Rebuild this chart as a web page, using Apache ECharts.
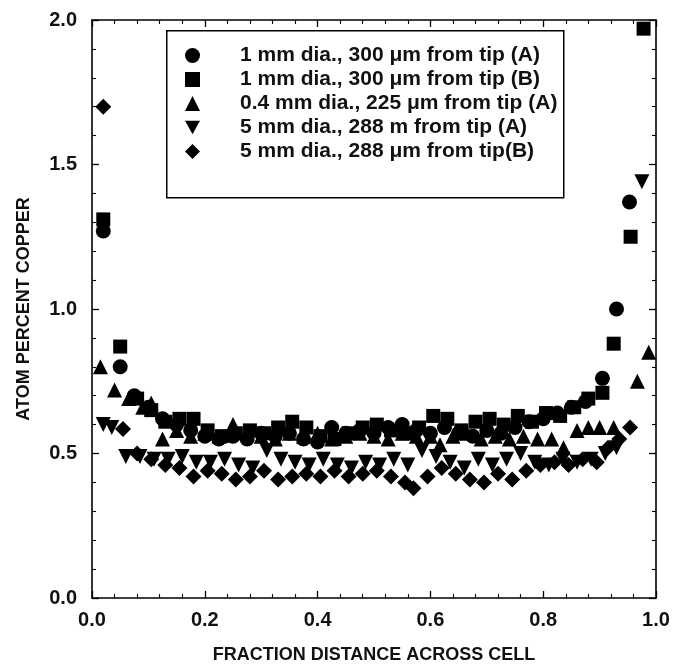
<!DOCTYPE html>
<html><head><meta charset="utf-8">
<script src="https://cdn.jsdelivr.net/npm/echarts@6/dist/echarts.min.js"></script>
<style>html,body{margin:0;padding:0;background:#fff}#c{width:681px;height:670px}</style>
</head><body><div id="c"></div>
<script>
const seriesNames = [
  '1 mm dia., 300 \u03bcm from tip (A)',
  '1 mm dia., 300 \u03bcm from tip (B)',
  '0.4 mm dia., 225 \u03bcm from tip (A)',
  '5 mm dia., 288 m from tip (A)',
  '5 mm dia., 288 \u03bcm from tip(B)'
];
const xTicks = [0, 0.2, 0.4, 0.6, 0.8, 1.0];
const yTicks = [0, 0.5, 1.0, 1.5, 2.0];

const circleA = [[0.02,1.27],[0.05,0.80],[0.075,0.70],[0.10,0.66],[0.125,0.62],[0.15,0.60],[0.175,0.58],[0.20,0.56],[0.225,0.55],[0.25,0.56],[0.275,0.55],[0.30,0.57],[0.325,0.56],[0.35,0.57],[0.375,0.55],[0.40,0.54],[0.425,0.59],[0.45,0.57],[0.475,0.58],[0.50,0.57],[0.525,0.59],[0.55,0.60],[0.575,0.58],[0.60,0.57],[0.625,0.59],[0.65,0.57],[0.675,0.56],[0.70,0.58],[0.725,0.57],[0.75,0.59],[0.775,0.61],[0.80,0.62],[0.825,0.64],[0.85,0.66],[0.875,0.68],[0.905,0.76],[0.93,1.00],[0.953,1.37]];
const squareB = [[0.02,1.31],[0.05,0.87],[0.08,0.69],[0.105,0.65],[0.13,0.61],[0.155,0.62],[0.18,0.62],[0.205,0.58],[0.23,0.56],[0.255,0.57],[0.28,0.58],[0.305,0.57],[0.33,0.59],[0.355,0.61],[0.38,0.59],[0.405,0.56],[0.43,0.55],[0.455,0.57],[0.48,0.59],[0.505,0.60],[0.53,0.58],[0.555,0.57],[0.58,0.59],[0.605,0.63],[0.63,0.62],[0.655,0.58],[0.68,0.61],[0.705,0.62],[0.73,0.60],[0.755,0.63],[0.78,0.61],[0.805,0.64],[0.83,0.63],[0.855,0.66],[0.88,0.69],[0.905,0.71],[0.925,0.88],[0.955,1.25],[0.978,1.97]];
const triangleA = [[0.015,0.80],[0.04,0.72],[0.065,0.69],[0.09,0.66],[0.105,0.675],[0.125,0.55],[0.15,0.58],[0.175,0.56],[0.20,0.57],[0.225,0.56],[0.25,0.60],[0.275,0.57],[0.30,0.56],[0.325,0.55],[0.35,0.57],[0.375,0.56],[0.40,0.57],[0.425,0.55],[0.45,0.56],[0.475,0.57],[0.50,0.56],[0.525,0.55],[0.55,0.57],[0.575,0.56],[0.60,0.56],[0.617,0.53],[0.64,0.56],[0.665,0.57],[0.69,0.55],[0.715,0.56],[0.74,0.55],[0.765,0.56],[0.79,0.55],[0.815,0.55],[0.836,0.52],[0.86,0.58],[0.88,0.59],[0.90,0.59],[0.925,0.59],[0.967,0.75],[0.987,0.85]];
const downTriA = [[0.02,0.60],[0.035,0.59],[0.06,0.49],[0.085,0.49],[0.11,0.48],[0.135,0.48],[0.16,0.49],[0.185,0.47],[0.21,0.47],[0.235,0.48],[0.26,0.46],[0.285,0.45],[0.31,0.51],[0.335,0.48],[0.36,0.47],[0.385,0.46],[0.41,0.48],[0.435,0.46],[0.46,0.45],[0.485,0.47],[0.51,0.46],[0.535,0.48],[0.56,0.46],[0.585,0.51],[0.61,0.49],[0.635,0.47],[0.66,0.45],[0.685,0.48],[0.71,0.46],[0.735,0.48],[0.76,0.50],[0.785,0.47],[0.81,0.46],[0.835,0.48],[0.86,0.47],[0.885,0.48],[0.91,0.50],[0.93,0.52],[0.975,1.44]];
const diamondB = [[0.02,1.70],[0.055,0.585],[0.08,0.50],[0.105,0.48],[0.13,0.46],[0.155,0.45],[0.18,0.42],[0.205,0.44],[0.23,0.43],[0.255,0.41],[0.28,0.42],[0.305,0.44],[0.33,0.41],[0.355,0.42],[0.38,0.43],[0.405,0.42],[0.43,0.44],[0.455,0.42],[0.48,0.43],[0.505,0.44],[0.53,0.42],[0.555,0.40],[0.57,0.38],[0.595,0.42],[0.62,0.45],[0.645,0.43],[0.67,0.41],[0.695,0.40],[0.72,0.43],[0.745,0.41],[0.77,0.44],[0.795,0.46],[0.82,0.47],[0.845,0.46],[0.87,0.48],[0.895,0.47],[0.915,0.52],[0.935,0.55],[0.954,0.59]];

const downTri = 'path://M0,0L10,0L5,9Z';
const symbols = ['circle', 'rect', 'triangle', downTri, 'diamond'];
const sizes = [15, 14, 15, 15, 16];
const datasets = [circleA, squareB, triangleA, downTriA, diamondB];

const FONT = '"Liberation Sans", Arial, sans-serif';
const axisCommon = {
  min: 0, max: 1, interval: 0.2,
  axisLine: {show: true, onZero: false, lineStyle: {color: '#000', width: 1.6}},
  axisTick: {show: true, inside: true, length: 7, lineStyle: {color: '#000', width: 1.3}},
  minorTick: {show: true, splitNumber: 5, length: 4, lineStyle: {color: '#000', width: 1.1}},
  splitLine: {show: false}
};

const chart = echarts.init(document.getElementById('c'), null, {renderer: 'canvas'});
chart.setOption({
  backgroundColor: '#fff',
  animation: false,
  grid: {left: 92, right: 25, top: 20, bottom: 72, containLabel: false},
  graphic: [{
    type: 'rect', left: 166, top: 30, z: 10,
    shape: {width: 397, height: 167},
    style: {fill: '#fff', stroke: '#000', lineWidth: 1.5}
  }],
  legend: {
    orient: 'vertical', left: 185, top: 45, z: 20, padding: 0,
    itemWidth: 15, itemHeight: 15, itemGap: 3,
    data: seriesNames.map((n, i) => ({name: n, icon: symbols[i]})),
    textStyle: {fontFamily: FONT, fontSize: 21, fontWeight: 'bold', color: '#111', lineHeight: 21, padding: [0, 0, 0, 35]},
    itemStyle: {color: '#000'}
  },
  xAxis: [
    Object.assign({}, axisCommon, {
      type: 'value', position: 'bottom',
      axisLabel: {show: true, margin: 12, fontFamily: FONT, fontSize: 20, fontWeight: 'bold', color: '#111',
        formatter: v => xTicks.includes(+v.toFixed(1)) ? v.toFixed(1) : ''},
      name: 'FRACTION DISTANCE ACROSS CELL', nameLocation: 'middle', nameGap: 48,
      nameTextStyle: {fontFamily: FONT, fontSize: 18, fontWeight: 'bold', color: '#111'}
    }),
    Object.assign({}, axisCommon, {type: 'value', position: 'top', axisLabel: {show: false}})
  ],
  yAxis: [
    Object.assign({}, axisCommon, {
      type: 'value', position: 'left', min: 0, max: 2, interval: 0.5,
      axisLabel: {show: true, margin: 15, fontFamily: FONT, fontSize: 20, fontWeight: 'bold', color: '#111',
        formatter: v => yTicks.includes(+v.toFixed(1)) ? v.toFixed(1) : ''},
      name: 'ATOM PERCENT COPPER', nameLocation: 'middle', nameGap: 59,
      nameTextStyle: {fontFamily: FONT, fontSize: 18, fontWeight: 'bold', color: '#111'}
    }),
    Object.assign({}, axisCommon, {type: 'value', position: 'right', min: 0, max: 2, interval: 0.5, axisLabel: {show: false}})
  ],
  series: datasets.map((d, i) => ({
    name: seriesNames[i], type: 'scatter', data: d,
    symbol: symbols[i], symbolSize: sizes[i],
    itemStyle: {color: '#000', opacity: 1},
    xAxisIndex: 0, yAxisIndex: 0
  }))
});
</script></body></html>
